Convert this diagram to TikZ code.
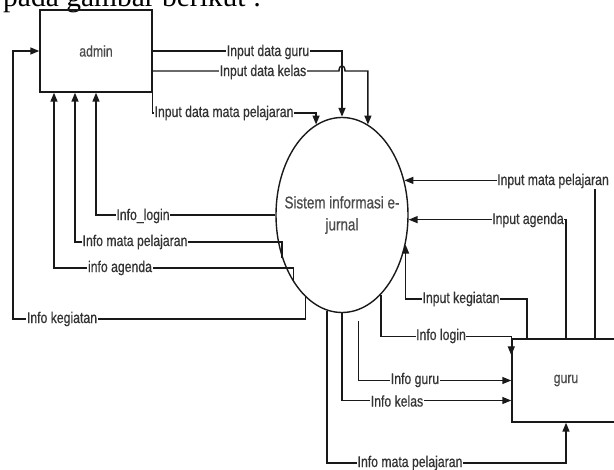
\documentclass[tikz,border=0pt]{standalone}
\usepackage{fontspec}
\newfontfamily\dfdfont[FakeStretch=0.79, FakeBold=0.6]{Liberation Sans}
\newfontfamily\judulfont{Liberation Serif}
\usepackage{tikz}
\usetikzlibrary{shapes.geometric}
\usetikzlibrary{arrows.meta}
\usetikzlibrary{calc}

\begin{document}
\begin{tikzpicture}[x=1pt, y=-1pt,
    flow/.style={line width=1.4pt, black!90, -{Triangle[length=9pt,width=7pt]}},
    entitas/.style={draw, line width=1.4pt, black!90, inner sep=0pt},
    lbl/.style={fill=white, inner sep=0.6pt, font=\dfdfont\fontsize{15.5}{17}\selectfont, text=black!80}]
  \useasboundingbox (0,0) rectangle (614,470);
  \clip (0,0) rectangle (614,470);

  \node[anchor=base west, inner sep=0pt, font=\judulfont\fontsize{29.5}{32}\selectfont] (judul) at (3,7) {pada gambar berikut :};

  \node[entitas, minimum width=112pt, minimum height=82pt, font=\dfdfont\fontsize{15.5}{17}\selectfont, text=black!70] (admin) at (96,51) {admin};
  \node[entitas, minimum width=108pt, minimum height=83pt, font=\dfdfont\fontsize{15.5}{17}\selectfont, text=black!70] (guru) at (566,380.5) {guru};
  \node[entitas, ellipse, minimum width=132pt, minimum height=195pt] (sistem) at (342,215) {};
  \node[align=center, inner sep=0pt, font=\dfdfont\fontsize{17}{22}\selectfont, text=black!70] (sistemteks) at (sistem.center) {Sistem informasi e-\\jurnal};

  % admin -> sistem
  \draw[flow] (admin.east) -| (sistem.north);
  \coordinate (kelas) at ([yshift=-20pt]admin.east);
  \draw[flow] (kelas) -- ($(kelas -| sistem.north)+(-3,0)$)
    .. controls +(0,-7) and +(0,-7) .. ($(kelas -| sistem.north)+(3,0)$)
    -- (kelas -| sistem.74) -- (sistem.74);
  \draw[flow] (admin.south east) |- (sistem.106 |- 0,113) -- (sistem.106);

  % sistem -> admin
  \draw[flow] (sistem.west) -| (admin.south);
  \draw[flow] (sistem.216) -- (sistem.216 |- 0,242) -| ([xshift=-21pt]admin.south);
  \draw[flow] (sistem.234) -- (sistem.234 |- 0,268) -| ([xshift=-42pt]admin.south);
  \draw[flow] (sistem.246) -- (sistem.246 |- 0,319) -- (13,319) |- (admin.west);

  % guru -> sistem
  \draw[flow] ([xshift=29pt]guru.north) |- (sistem.29);
  \draw[flow] (guru.north) |- (sistem.356);
  \draw[flow] ([xshift=-39pt]guru.north) |- (sistem.335 |- 0,299) -- (sistem.335);

  % sistem -> guru
  \draw[flow] (sistem.296) |- ([yshift=2pt]guru.north west) -- ([yshift=-17pt]guru.north west);
  \draw[flow] ([yshift=-11pt]sistem.280) |- (guru.west);
  \draw[flow] (sistem.south) |- ([yshift=-20pt]guru.west);
  \draw[flow] (sistem.261) |- (guru.south |- 0,463) -- (guru.south);

  % label
  \node[lbl] (l1) at (268,52) {Input data guru};
  \node[lbl] (l2) at (263,72) {Input data kelas};
  \node[lbl] (l3) at (224,113) {Input data mata pelajaran};
  \node[lbl] (l4) at (143,216) {Info\_login};
  \node[lbl] (l5) at (135,242) {Info mata pelajaran};
  \node[lbl] (l6) at (120,268) {info agenda};
  \node[lbl] (l7) at (62,319) {Info kegiatan};
  \node[lbl] (l8) at (553,181) {Input mata pelajaran};
  \node[lbl] (l9) at (528,220) {Input agenda};
  \node[lbl] (l10) at (461,299) {Input kegiatan};
  \node[lbl] (l11) at (441,336) {Info login};
  \node[lbl] (l12) at (415,380) {Info guru};
  \node[lbl] (l13) at (397,401) {Info kelas};
  \node[lbl] (l14) at (410,463) {Info mata pelajaran};
\end{tikzpicture}
\end{document}
